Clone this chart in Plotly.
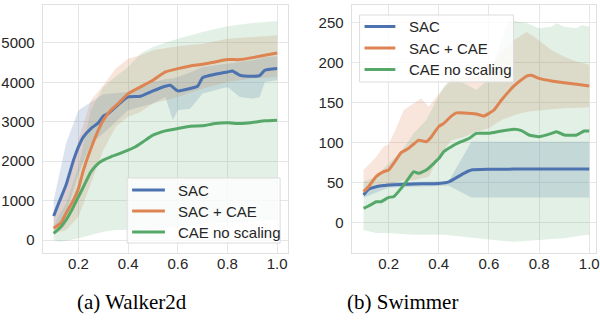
import plotly.graph_objects as go

# ---------------- Walker2d data ----------------
w_sac_x = [0.1, 0.12, 0.15, 0.18, 0.2, 0.22, 0.25, 0.28, 0.3, 0.32, 0.35, 0.38, 0.4, 0.45, 0.5, 0.55, 0.57,
           0.6, 0.65, 0.68, 0.7, 0.75, 0.8, 0.82, 0.85, 0.9, 0.93, 0.95, 1.0]
w_sac_y = [608, 929, 1394, 2027, 2365, 2618, 2829, 2973, 3142, 3209, 3378, 3547, 3632, 3649, 3784, 3902, 3927,
           3784, 3843, 3902, 4122, 4206, 4265, 4291, 4181, 4155, 4172, 4307, 4350]
w_sac_bx = [0.1, 0.15, 0.2, 0.25, 0.3, 0.4, 0.5, 0.55, 0.58, 0.6, 0.65, 0.7, 0.8, 0.85, 0.9, 0.93, 0.95, 1.0]
w_sac_hi = [1000, 2450, 3294, 3505, 3700, 3758, 4012, 4080, 4100, 4139, 4250, 4392, 4476, 4500, 4561, 4600, 4640, 4662]
w_sac_lo = [253, 676, 1689, 2449, 2703, 3294, 3463, 3632, 3041, 3294, 3330, 3716, 3885, 3632, 3590, 3620, 4012, 4054]

w_cae_x = [0.1, 0.13, 0.15, 0.18, 0.2, 0.22, 0.25, 0.28, 0.3, 0.33, 0.36, 0.4, 0.45, 0.5, 0.55, 0.6, 0.65,
           0.7, 0.75, 0.8, 0.85, 0.9, 0.95, 1.0]
w_cae_y = [296, 439, 676, 1014, 1309, 1774, 2323, 2787, 3041, 3294, 3463, 3716, 3885, 4054, 4265, 4350, 4417,
           4459, 4519, 4578, 4578, 4628, 4688, 4747]
w_cae_bx = [0.1, 0.15, 0.2, 0.25, 0.3, 0.35, 0.4, 0.45, 0.5, 0.6, 0.7, 0.8, 0.9, 1.0]
w_cae_hi = [591, 1351, 2534, 3547, 3927, 4350, 4603, 4690, 4814, 4916, 4983, 5110, 5152, 5194]
w_cae_lo = [169, 250, 591, 1436, 2280, 2872, 3125, 3250, 3463, 3632, 3843, 4012, 4096, 4139]

w_nos_x = [0.1, 0.13, 0.15, 0.18, 0.2, 0.22, 0.25, 0.28, 0.3, 0.33, 0.36, 0.4, 0.43, 0.46, 0.5, 0.55, 0.6,
           0.65, 0.7, 0.75, 0.8, 0.85, 0.9, 0.95, 1.0]
w_nos_y = [169, 338, 507, 845, 1098, 1351, 1731, 1943, 2027, 2111, 2179, 2280, 2365, 2492, 2660, 2770, 2829,
           2889, 2897, 2956, 2973, 2956, 2981, 3024, 3041]
w_nos_bx = [0.1, 0.12, 0.15, 0.2, 0.25, 0.3, 0.35, 0.4, 0.45, 0.5, 0.6, 0.7, 0.8, 0.9, 1.0]
w_nos_hi = [338, 600, 929, 1858, 3294, 3885, 4150, 4392, 4730, 4899, 5110, 5279, 5422, 5507, 5557]
w_nos_lo = [0, -42, -20, 42, 127, 211, 253, 253, 260, 270, 338, 405, 439, 465, 507]

# ---------------- Swimmer data ----------------
s_sac_x = [0.1, 0.12, 0.15, 0.2, 0.3, 0.4, 0.44, 0.5, 0.53, 0.6, 0.8, 1.0]
s_sac_y = [34.5, 41.6, 44.9, 47, 48.3, 49, 51, 61.6, 65.7, 66.6, 67, 67]
s_sac_bx = [0.1, 0.2, 0.44, 0.53, 1.0]
s_sac_hi = [38, 50, 52, 101, 101]
s_sac_lo = [31, 44, 46, 31.5, 31.5]

s_cae_x = [0.1, 0.12, 0.15, 0.18, 0.2, 0.22, 0.25, 0.28, 0.3, 0.32, 0.35, 0.37, 0.4, 0.42, 0.45, 0.47, 0.5,
           0.55, 0.58, 0.62, 0.65, 0.7, 0.75, 0.77, 0.8, 0.85, 0.9, 0.95, 1.0]
s_cae_y = [38.7, 44.9, 57.4, 63.6, 65.7, 74, 87.4, 92.8, 98.2, 103, 101, 107, 120, 124, 133, 137, 137,
           135.6, 133, 140.6, 153, 170.6, 183, 184, 180, 176.8, 174.7, 172.6, 170.5]
s_cae_bx = [0.1, 0.15, 0.18, 0.2, 0.23, 0.26, 0.3, 0.33, 0.36, 0.4, 0.45, 0.5, 0.55, 0.6, 0.65, 0.7, 0.75,
            0.78, 0.85, 0.9, 0.95, 1.0]
s_cae_hi = [65.7, 82, 95, 98, 117.7, 140.6, 149, 155, 144.8, 161, 178, 182, 181, 194.7, 211, 228, 238,
            232, 215, 207, 201, 197]
s_cae_lo = [34.5, 45, 45, 45, 50, 53, 53, 55, 57, 82, 103, 107, 113.6, 117.7, 128, 134, 138.5,
            140, 141.5, 142.7, 143.5, 144]

s_nos_x = [0.1, 0.12, 0.15, 0.17, 0.2, 0.22, 0.25, 0.27, 0.3, 0.32, 0.35, 0.38, 0.4, 0.42, 0.45, 0.48, 0.52,
           0.55, 0.6, 0.65, 0.7, 0.73, 0.76, 0.8, 0.85, 0.87, 0.9, 0.95, 0.98, 1.0]
s_nos_y = [17.9, 20.8, 26.2, 26.2, 31.6, 32.4, 42.8, 51, 63.6, 61.6, 65.7, 74, 80, 88.6, 94.8, 99.8, 105,
           111.5, 111.5, 114.4, 116.5, 114.8, 109.4, 107.3, 111.5, 113.6, 109.4, 109.4, 114.4, 114.4]
s_nos_bx = [0.1, 0.15, 0.2, 0.25, 0.3, 0.35, 0.42, 0.45, 0.5, 0.55, 0.6, 0.65, 0.68, 0.7, 0.75, 0.8, 0.85,
            0.87, 0.9, 0.95, 0.97, 1.0]
s_nos_hi = [51, 57.4, 74, 88.6, 111.5, 128, 169.7, 180, 174, 165.6, 180, 228, 253, 252, 248.8, 242.5, 244.6,
            248.8, 244.6, 242.5, 246.5, 244.6]
s_nos_lo = [-9, -13, -13, -14, -15, -15, -15, -16, -18, -19.5, -21, -22.5, -23.5, -23.7, -22.5, -21.6, -20.5,
            -20, -19.5, -17, -16, -15]

x_ticks = [0.2, 0.4, 0.6, 0.8, 1.0]
x_tick_text = ["0.2", "0.4", "0.6", "0.8", "1.0"]
w_y_ticks = [0, 1000, 2000, 3000, 4000, 5000]
s_y_ticks = [0, 50, 100, 150, 200, 250]
series_names = ["SAC", "SAC + CAE", "CAE no scaling"]
captions = ["(a) Walker2d", "(b) Swimmer"]

COLORS = ["#4C72B0", "#DD8452", "#55A868"]
FILLS = ["rgba(76,114,176,0.2)", "rgba(221,132,82,0.2)", "rgba(85,168,104,0.17)"]
SANS = "Liberation Sans, Arial, sans-serif"

W, H = 600, 327
def px_x(p): return p / W
def px_y(p): return 1 - p / H

fig = go.Figure()

panels = [
    ("x", "y",
     [(w_sac_x, w_sac_y, w_sac_bx, w_sac_hi, w_sac_lo),
      (w_cae_x, w_cae_y, w_cae_bx, w_cae_hi, w_cae_lo),
      (w_nos_x, w_nos_y, w_nos_bx, w_nos_hi, w_nos_lo)]),
    ("x2", "y2",
     [(s_sac_x, s_sac_y, s_sac_bx, s_sac_hi, s_sac_lo),
      (s_cae_x, s_cae_y, s_cae_bx, s_cae_hi, s_cae_lo),
      (s_nos_x, s_nos_y, s_nos_bx, s_nos_hi, s_nos_lo)]),
]

for xa, ya, series in panels:
    for i, (lx, ly, bx, hi, lo) in enumerate(series):
        fig.add_trace(go.Scatter(
            x=list(bx) + list(bx)[::-1], y=list(hi) + list(lo)[::-1],
            fill="toself", fillcolor=FILLS[i], line=dict(width=0),
            mode="lines", hoverinfo="skip", showlegend=False, xaxis=xa, yaxis=ya))
    for i, (lx, ly, bx, hi, lo) in enumerate(series):
        fig.add_trace(go.Scatter(
            x=lx, y=ly, mode="lines", name=series_names[i], showlegend=False,
            line=dict(color=COLORS[i], width=3, shape="spline", smoothing=0.4),
            xaxis=xa, yaxis=ya))

tickfont = dict(family=SANS, size=15, color="#262626")
axis_common = dict(showgrid=True, gridcolor="#e6e6e6", gridwidth=1, zeroline=False,
                   showline=True, linecolor="#e0e0e0", linewidth=1, mirror=True,
                   ticks="", tickfont=tickfont, ticklabeloverflow="allow")

fig.update_layout(
    width=W, height=H, margin=dict(l=0, r=0, t=0, b=0),
    paper_bgcolor="white", plot_bgcolor="white", showlegend=False,
    xaxis=dict(domain=[px_x(43), px_x(290)], range=[0.056, 1.044], anchor="y",
               tickvals=x_ticks, ticktext=x_tick_text, ticklabelstandoff=-3, **axis_common),
    yaxis=dict(domain=[px_y(253), px_y(5)], range=[-330, 5964], anchor="x",
               tickvals=w_y_ticks, ticklabelstandoff=4, **axis_common),
    xaxis2=dict(domain=[px_x(354), 1.0], range=[0.0525, 1.027], anchor="y2",
                tickvals=x_ticks, ticktext=x_tick_text, ticklabelstandoff=-3, **axis_common),
    yaxis2=dict(domain=[px_y(253), px_y(5)], range=[-37.8, 271.6], anchor="x2",
                tickvals=s_y_ticks, ticklabelstandoff=4, **axis_common),
)

# Manual legends (matplotlib-like spacing)
legend_boxes = [
    dict(x0=128, x1=282, y0=178, y1=243, rows=[190, 211, 232], lx0=133, lx1=166, tx=177),
    dict(x0=362, x1=517, y0=15, y1=82, rows=[26.5, 48, 69.5], lx0=367, lx1=398, tx=410),
]
for lb in legend_boxes:
    fig.add_shape(type="rect", xref="paper", yref="paper",
                  x0=px_x(lb["x0"]), x1=px_x(lb["x1"]), y0=px_y(lb["y1"]), y1=px_y(lb["y0"]),
                  fillcolor="rgba(255,255,255,0.8)", line=dict(color="#dcdcdc", width=1), layer="above")
    for i, ry in enumerate(lb["rows"]):
        fig.add_shape(type="line", xref="paper", yref="paper",
                      x0=px_x(lb["lx0"]), x1=px_x(lb["lx1"]), y0=px_y(ry), y1=px_y(ry),
                      line=dict(color=COLORS[i], width=3), layer="above")
        fig.add_annotation(x=px_x(lb["tx"]), y=px_y(ry), xref="paper", yref="paper",
                           text=series_names[i], showarrow=False, xanchor="left", yanchor="middle",
                           font=dict(family=SANS, size=15, color="#262626"))

for cx, txt in zip([133, 405], captions):
    fig.add_annotation(x=px_x(cx), y=px_y(302), xref="paper", yref="paper",
                       text=txt, showarrow=False, xanchor="center", yanchor="middle",
                       font=dict(family="Liberation Serif, Times New Roman, serif", size=21, color="black"))

fig.write_html("out.html")
